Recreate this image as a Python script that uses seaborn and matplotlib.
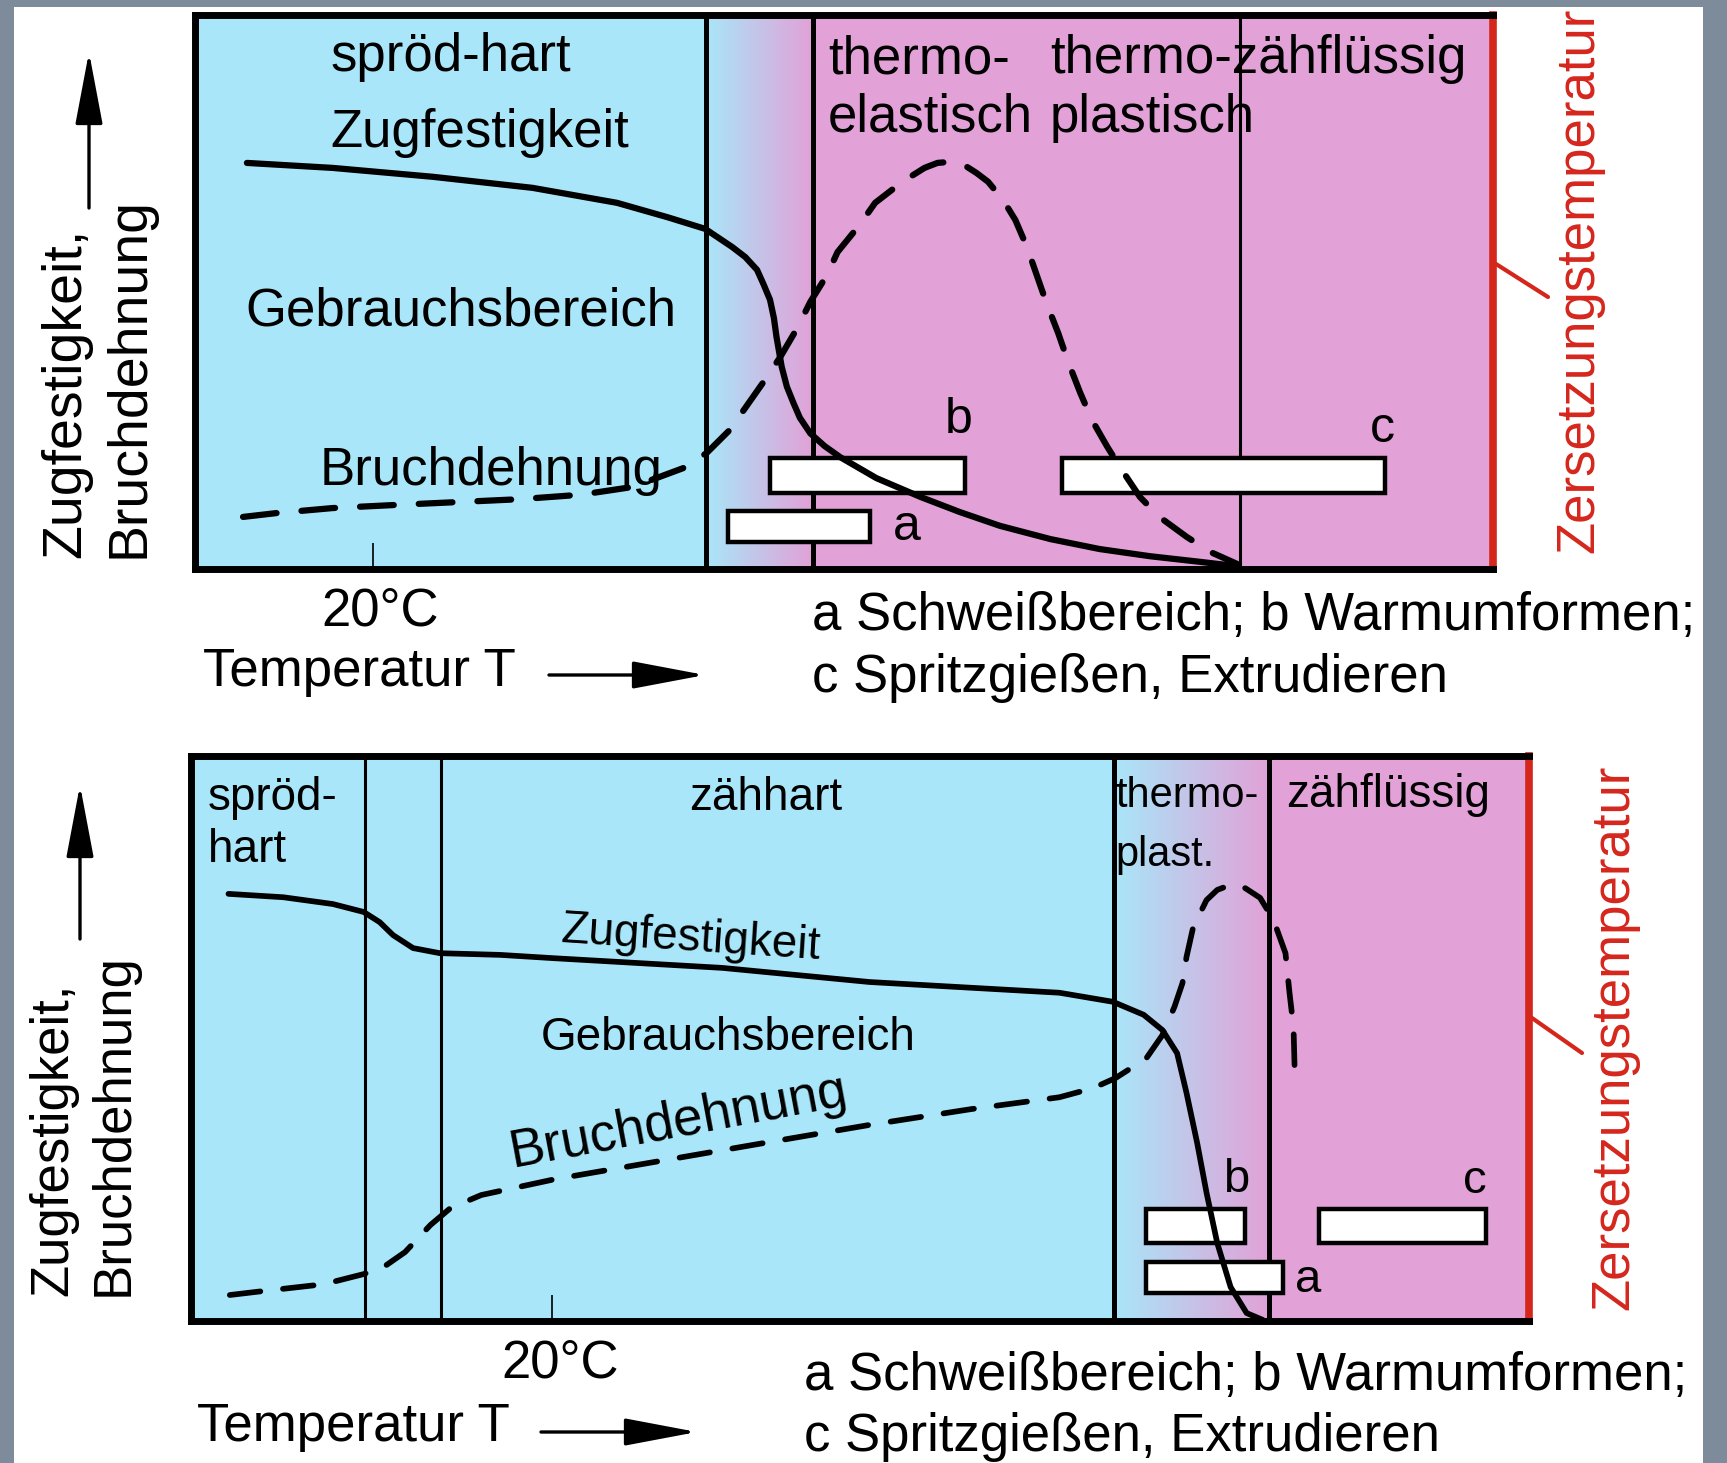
import numpy as np
import matplotlib
matplotlib.use('Agg')
import matplotlib.pyplot as plt
import seaborn as sns
from matplotlib.patches import Rectangle, FancyArrowPatch, ArrowStyle
from matplotlib.lines import Line2D

# Achsen beider Diagramme: Temperatur 0..100 (Breite des Kastens), Eigenschaft 0..100 (Hoehe)
# --- oberes Diagramm (amorph) ---
oben_zug_t = [4.0, 10.6, 18.3, 26.0, 32.5, 36.4, 39.3, 41.4, 42.4, 43.3, 43.8, 44.3, 44.6,
              44.8, 45.2, 45.6, 46.1, 46.6, 47.4, 48.5, 49.7, 52.5, 55.9, 58.9, 62.0, 65.9,
              69.7, 73.6, 77.4, 80.3]
oben_zug = [73.3, 72.4, 70.8, 68.8, 66.1, 63.5, 61.4, 58.1, 56.3, 54.0, 51.4, 48.6, 45.3,
            41.9, 36.5, 32.9, 30.0, 27.3, 24.5, 22.2, 20.2, 16.4, 13.0, 10.3, 7.8, 5.4,
            3.6, 2.3, 1.3, 0.5]
oben_bruch_t = [3.7, 6.3, 10.6, 15.8, 20.4, 25.0, 29.7, 33.7, 37.6, 39.4, 41.2, 42.4, 43.9,
                45.1, 46.4, 47.4, 48.7, 49.5, 51.2, 52.4, 54.5, 56.2, 57.2, 58.2, 59.2, 60.2,
                61.1, 61.8, 62.6, 63.2, 64.1, 64.9, 65.6, 66.5, 67.3, 68.2, 69.1, 70.3, 71.4,
                72.8, 74.3, 76.4, 78.2, 80.3]
oben_bruch = [9.4, 10.1, 11.0, 11.6, 12.1, 12.6, 13.4, 14.8, 18.2, 20.9, 25.1, 29.1, 34.1,
              38.3, 43.5, 48.2, 53.1, 57.2, 62.1, 66.1, 69.9, 72.4, 73.3, 73.5, 73.0, 71.5,
              69.9, 67.9, 65.3, 63.0, 58.1, 52.7, 48.0, 42.6, 37.2, 31.8, 26.9, 22.0, 17.9,
              13.0, 9.4, 5.8, 3.1, 0.9]
oben_grenzen = [39.4, 47.6, 80.5]
oben_20 = 13.7
# Verarbeitungsbereiche a, b, c
oben_von = [41.1, 44.3, 66.8]
oben_bis = [52.0, 59.3, 91.7]
oben_unten = [4.9, 13.7, 13.7]
oben_oben = [10.5, 20.0, 20.0]

# --- unteres Diagramm (teilkristallin) ---
unten_zug_t = [2.8, 6.9, 10.6, 12.9, 14.1, 15.1, 16.6, 18.6, 23.1, 27.2, 39.7, 50.7, 64.9,
               68.9, 71.2, 72.6, 73.7, 74.4, 75.2, 75.9, 76.7, 77.7, 78.9, 80.1]
unten_zug = [75.6, 75.0, 73.8, 72.4, 70.6, 68.3, 66.0, 65.1, 64.8, 64.2, 62.5, 60.0, 58.1,
             56.5, 54.2, 51.5, 47.4, 40.4, 31.5, 22.7, 13.8, 6.0, 1.4, 0.2]
unten_bruch_t = [2.9, 5.4, 9.9, 12.9, 14.3, 16.0, 17.9, 19.4, 21.7, 27.2, 35.5, 43.8, 50.7,
                 58.3, 64.9, 67.4, 69.1, 71.4, 72.6, 73.5, 74.1, 74.4, 74.9, 75.9, 76.7, 77.7,
                 78.8, 79.9, 80.9, 81.8, 82.1, 82.4, 82.5]
unten_bruch = [4.6, 5.3, 6.5, 8.3, 9.4, 12.2, 17.0, 20.0, 22.3, 25.1, 28.5, 31.9, 34.7,
               37.5, 39.6, 41.2, 43.0, 46.5, 50.6, 55.6, 59.8, 64.4, 69.7, 74.5, 76.3, 77.2,
               76.6, 74.9, 71.0, 65.1, 58.1, 52.0, 43.2]
unten_grenzen = [13.0, 18.7, 69.0, 80.6]
unten_20 = 27.0
unten_von = [71.4, 71.4, 84.3]
unten_bis = [81.6, 78.8, 96.8]
unten_unten = [5.0, 13.8, 13.8]
unten_oben = [10.4, 19.8, 19.8]

cyan = '#a9e6f9'
pink = '#e2a1d7'
rot = '#d5261c'

sns.set_theme(style='white')
plt.rcParams['font.family'] = ['Liberation Sans', 'DejaVu Sans']

W, H = 1727, 1463
fig = plt.figure(figsize=(W / 100, H / 100), dpi=100)
fig.patch.set_facecolor('#7d8b9b')


def fx(p):
    return p / W


def fy(p):
    return 1 - p / H


# weisser Hintergrund der Folie
fig.add_artist(Rectangle((fx(14), 0), (1703 - 14) / W, (H - 7) / H, transform=fig.transFigure,
                         facecolor='white', edgecolor='none', zorder=-10))


def diagramm(ax, g0, g1, gren, gren_lw, zug_t, zug, bruch_t, bruch, von, bis, lo, hi, t20, lw):
    # Bereiche: blau (hart), Uebergang, rosa (weich)
    ax.axvspan(0, g0, color=cyan, lw=0, zorder=0)
    ax.axvspan(g1, 100, color=pink, lw=0, zorder=0)
    c0 = np.array(matplotlib.colors.to_rgb(cyan))
    c1 = np.array(matplotlib.colors.to_rgb(pink))
    f = np.linspace(0, 1, 200)[:, None]
    grad = (c0 * (1 - f) + c1 * f)[None, :, :]
    ax.imshow(grad, extent=[g0, g1, 0, 100], aspect='auto', zorder=0)
    for g, w in zip(gren, gren_lw):
        ax.axvline(g, color='black', lw=w, zorder=1)
    mitte = [(a + b) / 2 for a, b in zip(lo, hi)]
    hoehe = [b - a for a, b in zip(lo, hi)]
    breite = [b - a for a, b in zip(von, bis)]
    ax.barh(mitte, breite, left=von, height=hoehe, color='white', edgecolor='black',
            linewidth=3.2, zorder=2)
    sns.lineplot(x=zug_t, y=zug, ax=ax, sort=False, estimator=None, color='black',
                 linewidth=lw, zorder=4, solid_capstyle='round', solid_joinstyle='round')
    sns.lineplot(x=bruch_t, y=bruch, ax=ax, sort=False, estimator=None, color='black',
                 linewidth=lw, linestyle=(0, (5.4, 4.0)), dash_capstyle='round', zorder=4)
    ax.set_xlim(0, 100)
    ax.set_ylim(0, 100)
    ax.set_xlabel('')
    ax.set_ylabel('')
    ax.set_yticks([])
    ax.set_xticks([t20])
    ax.set_xticklabels([''])
    ax.tick_params(axis='x', direction='in', length=19, width=1.2, color='black', bottom=True)
    for s in ['left', 'top', 'bottom']:
        ax.spines[s].set_color('black')
        ax.spines[s].set_linewidth(5)
    ax.spines['right'].set_color(rot)
    ax.spines['right'].set_linewidth(5.5)


ax1 = fig.add_axes([fx(195), fy(569), (1493 - 195) / W, (569 - 15) / H])
diagramm(ax1, oben_grenzen[0], oben_grenzen[1], oben_grenzen, [3.6, 3.6, 2.2],
         oben_zug_t, oben_zug, oben_bruch_t, oben_bruch,
         oben_von, oben_bis, oben_unten, oben_oben, oben_20, 4.5)

ax2 = fig.add_axes([fx(191), fy(1321), (1529 - 191) / W, (1321 - 756) / H])
diagramm(ax2, unten_grenzen[2], unten_grenzen[3], unten_grenzen, [2.2, 2.2, 3.6, 3.6],
         unten_zug_t, unten_zug, unten_bruch_t, unten_bruch,
         unten_von, unten_bis, unten_unten, unten_oben, unten_20, 4.1)


def txt(x, y, s, size=38, ha='left', rot_=0, color='black'):
    fig.text(fx(x), fy(y), s, fontsize=size, ha=ha, va='baseline', rotation=rot_,
             rotation_mode='anchor', color=color, zorder=6)


def pfeil(x0, y0, x1, y1):
    fig.add_artist(FancyArrowPatch((fx(x0), fy(y0)), (fx(x1), fy(y1)), transform=fig.transFigure,
                                   arrowstyle=ArrowStyle('-|>', head_length=45, head_width=8.5),
                                   mutation_scale=1, lw=2.4, color='black',
                                   shrinkA=0, shrinkB=0, zorder=6))


# oberes Diagramm: Beschriftung
txt(330, 71, 'spröd-hart')
txt(330, 147, 'Zugfestigkeit')
txt(245, 325, 'Gebrauchsbereich')
txt(320, 485, 'Bruchdehnung')
txt(828, 73, 'thermo-')
txt(828, 132, 'elastisch')
txt(1050, 73, 'thermo-zähflüssig')
txt(1050, 132, 'plastisch')
txt(945, 433, 'b', size=36)
txt(893, 540, 'a', size=36)
txt(1370, 442, 'c', size=36)
txt(380, 625, '20°C', ha='center')
txt(203, 686, 'Temperatur T')
pfeil(549, 675, 705, 675)
txt(812, 630, 'a Schweißbereich; b Warmumformen;')
txt(812, 692, 'c Spritzgießen, Extrudieren')
txt(80, 558, 'Zugfestigkeit,', size=40, rot_=90)
txt(143, 558, 'Bruchdehnung', size=40, rot_=90)
pfeil(89, 208, 89, 52)
txt(1593, 553, 'Zersetzungstemperatur', rot_=90, color=rot)
fig.add_artist(Line2D([fx(1496), fx(1548)], [fy(264), fy(297)], transform=fig.transFigure,
                      color=rot, lw=3))

# unteres Diagramm: Beschriftung
txt(208, 810, 'spröd-', size=33)
txt(208, 862, 'hart', size=33)
txt(766, 810, 'zähhart', size=33, ha='center')
txt(690, 951, 'Zugfestigkeit', size=33, ha='center', rot_=-3.8)
txt(541, 1050, 'Gebrauchsbereich', size=33)
txt(513, 1167, 'Bruchdehnung', size=38, rot_=10.6)
txt(1115, 807, 'thermo-', size=30)
txt(1115, 866, 'plast.', size=30)
txt(1286, 807, 'zähflüssig', size=33)
txt(1223, 1192, 'b', size=34)
txt(1295, 1292, 'a', size=34)
txt(1463, 1193, 'c', size=34)
txt(560, 1377, '20°C', ha='center')
txt(197, 1441, 'Temperatur T')
pfeil(541, 1432, 697, 1432)
txt(804, 1390, 'a Schweißbereich; b Warmumformen;')
txt(804, 1451, 'c Spritzgießen, Extrudieren')
txt(67, 1296, 'Zugfestigkeit,', size=38, rot_=90)
txt(128, 1296, 'Bruchdehnung', size=38, rot_=90)
pfeil(80, 939, 80, 785)
txt(1628, 1310, 'Zersetzungstemperatur', rot_=90, color=rot)
fig.add_artist(Line2D([fx(1532), fx(1582)], [fy(1018), fy(1053)], transform=fig.transFigure,
                      color=rot, lw=3))

fig.savefig('out.png', dpi=100, facecolor=fig.get_facecolor())
